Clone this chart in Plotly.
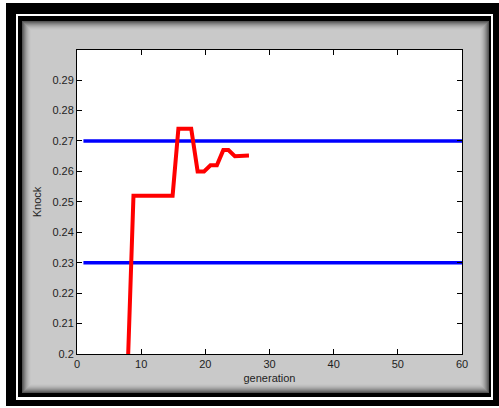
import plotly.graph_objects as go

# ---- data ----
generation = [7.9, 8.8, 14.9, 15.8, 17.8, 18.8, 19.8, 20.8, 21.8, 22.8, 23.6, 24.6, 26.8]
knock = [0.195, 0.252, 0.252, 0.274, 0.274, 0.260, 0.260, 0.262, 0.262, 0.267, 0.267, 0.265, 0.2652]
limit_x = [1, 60]
upper_limit = [0.27, 0.27]
lower_limit = [0.23, 0.23]
x_ticks = [0, 10, 20, 30, 40, 50, 60]
y_ticks = [0.2, 0.21, 0.22, 0.23, 0.24, 0.25, 0.26, 0.27, 0.28, 0.29]
y_tick_text = ["0.2", "0.21", "0.22", "0.23", "0.24", "0.25", "0.26", "0.27", "0.28", "0.29"]

W, H = 499, 408
ML, MR, MT, MB = 77, 37, 50, 54
PW = W - ML - MR
PH = H - MT - MB


def px(x):
    return (x - ML) / PW


def py(y):
    return (H - MB - y) / PH


def rect(x0, y0, x1, y1, color):
    return dict(type="rect", xref="paper", yref="paper",
                x0=px(x0), x1=px(x1), y0=py(y1), y1=py(y0),
                fillcolor=color, line=dict(width=0), layer="below")


shapes = [
    rect(6, 3, 499, 406, "black"),
    rect(16, 14, 493, 400, "white"),
    rect(18, 16, 491, 397, "black"),
]
# inner shadow of the grey panel
shade = ["#555555", "#6a6a6a", "#7e7e7e", "#909090", "#a0a0a0", "#adadad",
         "#b8b8b8", "#c0c0c0", "#c6c6c6", "#c9c9c9"]
for i, c in enumerate(shade):
    shapes.append(rect(22 + i, 21 + i, 489 - i, 393 - i, c))
# white plot area
shapes.append(rect(ML, MT, W - MR, H - MB, "white"))

fig = go.Figure()
fig.add_trace(go.Scatter(x=limit_x, y=upper_limit, mode="lines",
                         line=dict(color="#0000ff", width=3.5), showlegend=False))
fig.add_trace(go.Scatter(x=limit_x, y=lower_limit, mode="lines",
                         line=dict(color="#0000ff", width=3.5), showlegend=False))
fig.add_trace(go.Scatter(x=generation, y=knock, mode="lines",
                         line=dict(color="#ff0000", width=4), showlegend=False))

axis_font = dict(family="Liberation Sans, Arial, sans-serif", size=11, color="#1e1e1e")
fig.update_layout(
    width=W, height=H, autosize=False,
    margin=dict(l=ML, r=MR, t=MT, b=MB, pad=0),
    paper_bgcolor="white", plot_bgcolor="white",
    shapes=shapes,
    font=axis_font,
    xaxis=dict(range=[0, 60], tickvals=x_ticks, ticks="inside", ticklen=5,
               tickcolor="black", showline=True, linecolor="black", linewidth=1,
               mirror="ticks", showgrid=False, zeroline=False,
               title=dict(text="generation", font=axis_font, standoff=5),
               tickfont=axis_font),
    yaxis=dict(range=[0.2, 0.2999], tickvals=y_ticks, ticktext=y_tick_text,
               ticks="inside", ticklen=5, tickcolor="black", showline=True,
               linecolor="black", linewidth=1, mirror="ticks", showgrid=False,
               zeroline=False,
               title=dict(text="Knock", font=axis_font, standoff=8),
               tickfont=axis_font),
)

fig.write_html("out.html", config={"displayModeBar": False},
               post_script="document.body.style.margin='0px';document.body.style.overflow='hidden';")
